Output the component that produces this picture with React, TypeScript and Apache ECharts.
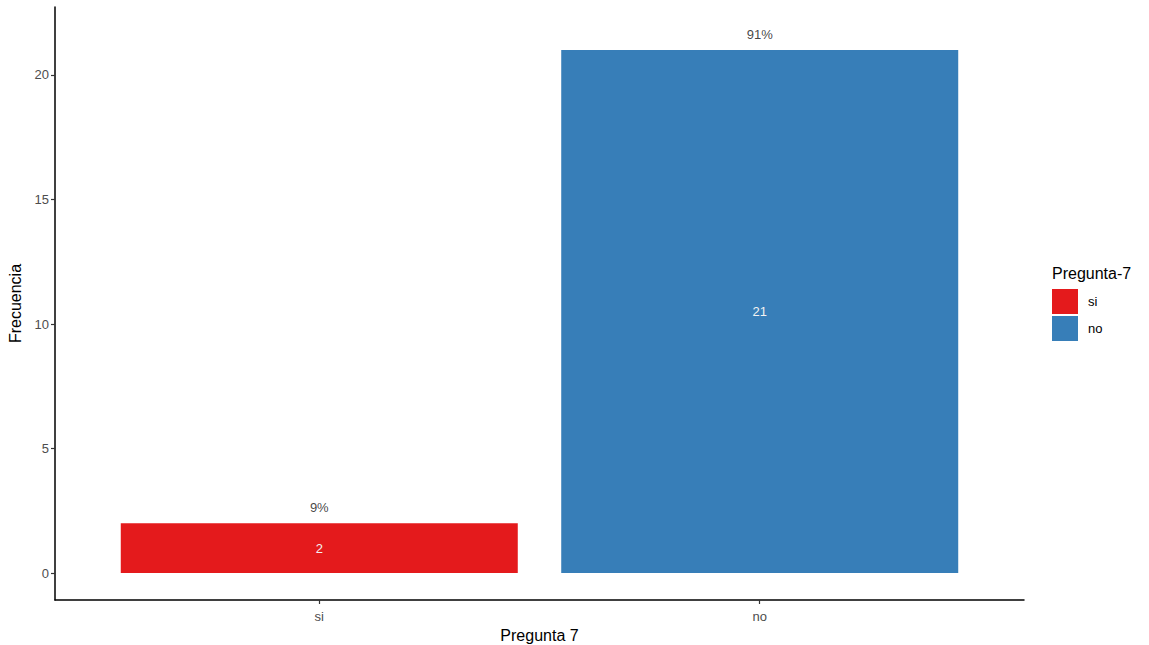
import React, { useEffect, useRef } from "react";
import * as echarts from "echarts";

const categories = ["si", "no"];
const values = [2, 21];
const percentLabels = ["9%", "91%"];
const colors = ["#E41A1C", "#377EB8"];
const yTicks = [0, 5, 10, 15, 20];
const xPositions = [1, 2];

const FONT = "'Liberation Sans', Arial, sans-serif";

export default function App() {
  const ref = useRef<HTMLDivElement>(null);
  useEffect(() => {
    if (!ref.current) return;
    const chart = echarts.init(ref.current, null, { renderer: "svg" });
    const barSeries = categories.map((c, i) => ({
      name: c,
      type: "bar",
      data: [[xPositions[i], values[i]]],
      barWidth: 397,
      barGap: "-100%",
      itemStyle: { color: colors[i] },
      label: {
        show: true,
        position: "inside",
        color: "#f2f2f2",
        fontSize: 13,
        fontFamily: FONT,
        formatter: (p: any) => String(p.value[1]),
      },
    }));
    chart.setOption({
      animation: false,
      textStyle: { fontFamily: FONT },
      grid: { left: 55, right: 125, top: 7, bottom: 45, containLabel: false, outerBoundsMode: "none" },
      legend: {
        data: categories,
        orient: "vertical",
        left: 1052,
        top: 289,
        padding: 0,
        itemWidth: 26,
        itemHeight: 25,
        itemGap: 2,
        icon: "rect",
        textStyle: { color: "#000", fontSize: 13, fontFamily: FONT, padding: [0, 0, 0, 5] },
      },
      graphic: [
        {
          type: "text",
          left: 1052,
          top: 265,
          style: { text: "Pregunta-7", fontSize: 16, fill: "#000", fontFamily: FONT },
        },
      ],
      xAxis: {
        type: "value",
        min: 0.4,
        max: 2.6,
        name: "Pregunta 7",
        nameLocation: "middle",
        nameGap: 25,
        nameTextStyle: { color: "#000", fontSize: 16, fontFamily: FONT },
        axisLine: { show: true, onZero: false, lineStyle: { color: "#000", width: 1.5 } },
        axisTick: { show: true, length: 4, customValues: xPositions, lineStyle: { color: "#333", width: 1.2 } },
        axisLabel: {
          customValues: xPositions,
          color: "#4d4d4d",
          fontSize: 13,
          margin: 10,
          formatter: (v: number) => categories[Math.round(v) - 1] ?? "",
        },
        splitLine: { show: false },
      },
      yAxis: {
        type: "value",
        min: -1.08,
        max: 22.73,
        name: "Frecuencia",
        nameLocation: "middle",
        nameGap: 28,
        nameTextStyle: { color: "#000", fontSize: 16, fontFamily: FONT },
        axisLine: { show: true, onZero: false, lineStyle: { color: "#000", width: 1.5 } },
        axisTick: { show: true, length: 4, customValues: yTicks, lineStyle: { color: "#333", width: 1.2 } },
        axisLabel: { customValues: yTicks, color: "#4d4d4d", fontSize: 13, margin: 6 },
        splitLine: { show: false },
      },
      series: [
        ...barSeries,
        {
          name: "pct",
          type: "scatter",
          symbolSize: 0,
          data: xPositions.map((x, i) => [x, values[i]]),
          label: {
            show: true,
            position: "top",
            distance: 9,
            color: "#111",
            fontSize: 13,
            fontFamily: FONT,
            formatter: (p: any) => percentLabels[p.dataIndex],
          },
          silent: true,
        },
      ],
    });
    return () => chart.dispose();
  }, []);
  return (
    <div
      ref={ref}
      style={{ position: "fixed", left: 0, top: 0, width: 1149, height: 645, background: "#fff" }}
    />
  );
}
